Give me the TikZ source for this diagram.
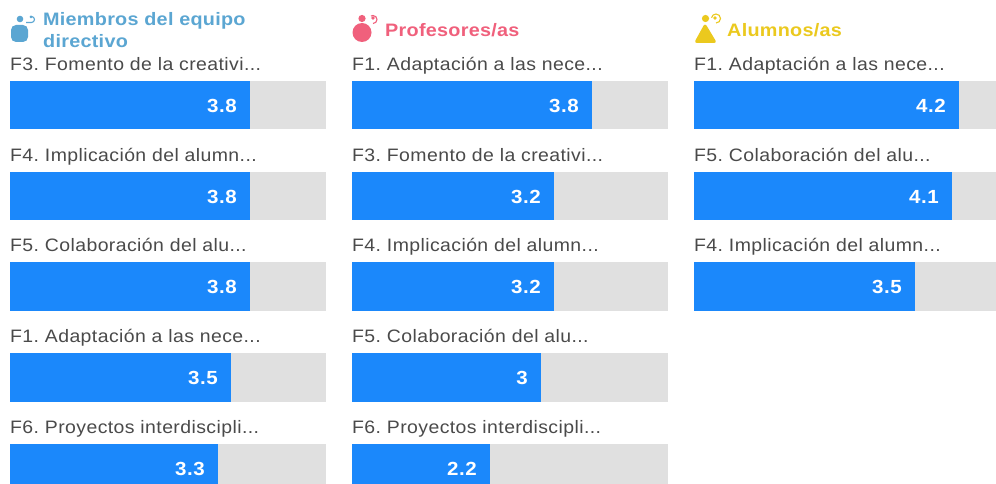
\documentclass[tikz,border=0pt]{standalone}
\usepackage{fontspec}
\setmainfont{Liberation Sans}
\newfontface\rowfont{Liberation Sans}[FakeStretch=1.08,LetterSpace=2.3]
\newfontface\valfont{Liberation Sans Bold}[FakeStretch=1.08,LetterSpace=3]
\newfontface\headfont{Liberation Sans Bold}[FakeStretch=1.1,LetterSpace=1.5]
\definecolor{barblue}{HTML}{1B88FB}
\definecolor{bargrey}{HTML}{E0E0E0}
\definecolor{labgrey}{HTML}{4A4A4A}
\definecolor{hblue}{HTML}{5BA6D2}
\definecolor{hred}{HTML}{F0607C}
\definecolor{hyellow}{HTML}{EBC91E}
\tikzset{
  x=1pt,y=-1pt,
  rowlabel/.style={anchor=base west,inner sep=0pt,text=labgrey,font=\fontsize{18}{18}\rowfont\frenchspacing},
  valuelabel/.style={anchor=base east,inner sep=0pt,text=white,font=\fontsize{19}{20}\valfont},
  headlabel/.style={anchor=base west,inner sep=0pt,font=\fontsize{18}{22}\headfont\frenchspacing},
  track/.style={fill=bargrey,draw=none},
  bar/.style={fill=barblue,draw=none},
}
% #1 x, #2 row top, #3 label, #4 bar width, #5 value, #6 name
\newcommand{\barrow}[6]{%
  \node[rowlabel] (l#6) at (#1,#2-10.5) {#3};
  \fill[track] (#1,#2) rectangle ++(316,48.5);
  \fill[bar] (#1,#2) rectangle ++(#4,48.5);
  \node[valuelabel] (v#6) at (#1+#4-13,#2+31.5) {#5};
}
\begin{document}
\begin{tikzpicture}
\useasboundingbox (0,0) rectangle (996,484);
\clip (0,0) rectangle (996,484);
\fill[white] (0,0) rectangle (996,484);
% headers
\fill[hblue,rounded corners=5pt] (11,25) rectangle (28,42);
\fill[hblue] (20,19) circle (3.3);
\fill[hblue] (31,17) circle (1.5);
\draw[hblue,line width=1.1pt] (26,22.5) -- (31.5,22.5) arc (90:-90:3);
\node[headlabel,text=hblue] (h1) at (43,26) {Miembros del equipo};
\node[headlabel,text=hblue] (h1b) at (43,48) {directivo};
\fill[hred] (362,32.5) circle (9.5);
\fill[hred] (362,18.5) circle (3.6);
\fill[hred] (373,18) circle (1.9);
\draw[hred,line width=1.1pt] (373,23.5) arc (90:-120:4);
\node[headlabel,text=hred] (h2) at (385,37) {Profesores/as};
\fill[hyellow,rounded corners=3pt] (694,43) -- (705,23) -- (717,43) -- cycle;
\fill[hyellow] (705.5,18.5) circle (3.6);
\fill[hyellow] (715,18) circle (1.9);
\draw[hyellow,line width=1.1pt] (716,23) arc (90:-170:4.5);
\node[headlabel,text=hyellow] (h3) at (727,37) {Alumnos/as};
% column 1
\barrow{10}{81}{F3. Fomento de la creativi...}{240}{3.8}{a}
\barrow{10}{171.5}{F4. Implicación del alumn...}{240}{3.8}{b}
\barrow{10}{262}{F5. Colaboración del alu...}{240}{3.8}{c}
\barrow{10}{353}{F1. Adaptación a las nece...}{221}{3.5}{d}
\barrow{10}{443.5}{F6. Proyectos interdiscipli...}{208}{3.3}{e}
% column 2
\barrow{352}{81}{F1. Adaptación a las nece...}{240}{3.8}{f}
\barrow{352}{171.5}{F3. Fomento de la creativi...}{202}{3.2}{g}
\barrow{352}{262}{F4. Implicación del alumn...}{202}{3.2}{h}
\barrow{352}{353}{F5. Colaboración del alu...}{189}{3}{i}
\barrow{352}{443.5}{F6. Proyectos interdiscipli...}{138}{2.2}{j}
% column 3
\barrow{694}{81}{F1. Adaptación a las nece...}{265}{4.2}{k}
\barrow{694}{171.5}{F5. Colaboración del alu...}{258}{4.1}{m}
\barrow{694}{262}{F4. Implicación del alumn...}{221}{3.5}{n}
\end{tikzpicture}
\end{document}
